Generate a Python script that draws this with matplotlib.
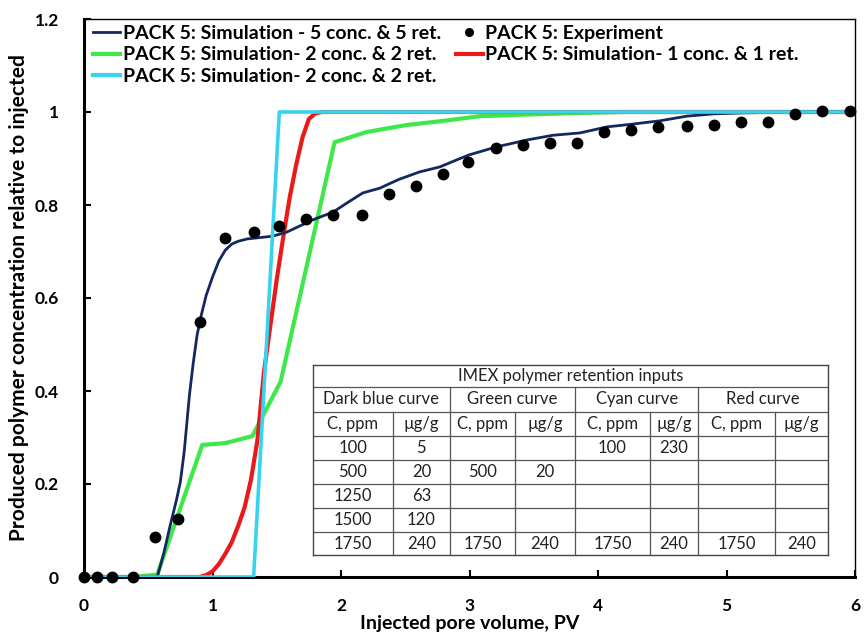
import matplotlib
matplotlib.use("Agg")
import matplotlib.pyplot as plt
from matplotlib.lines import Line2D

# ---------------- data ----------------
exp_x = [0.0, 0.10, 0.22, 0.38, 0.55, 0.73, 0.90, 1.10, 1.32, 1.52, 1.73, 1.94, 2.16,
         2.37, 2.58, 2.79, 2.99, 3.21, 3.42, 3.63, 3.84, 4.05, 4.26, 4.47, 4.69,
         4.90, 5.11, 5.32, 5.53, 5.74, 5.96]
exp_y = [0.0, 0.0, 0.0, 0.0, 0.086, 0.125, 0.548, 0.730, 0.742, 0.755, 0.770, 0.778,
         0.778, 0.824, 0.841, 0.867, 0.892, 0.923, 0.929, 0.933, 0.933, 0.957, 0.961,
         0.968, 0.970, 0.972, 0.978, 0.978, 0.996, 1.002, 1.002]

blue_x = [0.0, 0.57, 0.62, 0.67, 0.72, 0.75, 0.78, 0.80, 0.82, 0.85, 0.88, 0.91, 0.95,
          1.00, 1.05, 1.10, 1.15, 1.20, 1.27, 1.47, 1.58, 1.78, 1.94, 2.05, 2.17,
          2.30, 2.45, 2.61, 2.77, 2.90, 3.00, 3.21, 3.45, 3.65, 3.86, 4.07, 4.27,
          4.48, 4.69, 4.90, 5.10, 5.31, 5.60, 6.00]
blue_y = [0.0, 0.0, 0.05, 0.11, 0.166, 0.205, 0.27, 0.33, 0.39, 0.46, 0.52, 0.56, 0.605,
          0.645, 0.68, 0.703, 0.716, 0.722, 0.727, 0.733, 0.742, 0.768, 0.785, 0.805,
          0.826, 0.836, 0.855, 0.871, 0.882, 0.897, 0.908, 0.925, 0.940, 0.950, 0.955,
          0.968, 0.974, 0.981, 0.991, 0.996, 0.998, 0.999, 1.0, 1.0]

green_x = [0.0, 0.38, 0.57, 0.92, 1.10, 1.31, 1.53, 1.95, 2.20, 2.51, 2.77, 3.08, 3.50,
           3.86, 4.20, 6.00]
green_y = [0.0, 0.0, 0.005, 0.284, 0.288, 0.303, 0.420, 0.935, 0.957, 0.972, 0.980,
           0.991, 0.995, 0.998, 1.0, 1.0]

red_x = [0.0, 0.90, 0.95, 1.00, 1.05, 1.10, 1.15, 1.20, 1.25, 1.30, 1.35, 1.40, 1.45,
         1.50, 1.55, 1.60, 1.65, 1.70, 1.75, 1.80, 1.85, 6.00]
red_y = [0.0, 0.0, 0.004, 0.012, 0.028, 0.05, 0.075, 0.11, 0.15, 0.21, 0.295, 0.44,
         0.54, 0.64, 0.73, 0.815, 0.885, 0.945, 0.985, 0.997, 1.0, 1.0]

cyan_x = [0.0, 1.32, 1.52, 6.0]
cyan_y = [0.0, 0.0, 1.0, 1.0]

labels = ["PACK 5: Simulation - 5 conc. & 5 ret.",
          "PACK 5: Experiment",
          "PACK 5: Simulation- 2 conc. & 2 ret.",
          "PACK 5: Simulation- 1 conc. & 1 ret.",
          "PACK 5: Simulation- 2 conc. & 2 ret."]

x_ticks = [0, 1, 2, 3, 4, 5, 6]
y_ticks = [0, 0.2, 0.4, 0.6, 0.8, 1.0, 1.2]
y_tick_labels = ["0", "0.2", "0.4", "0.6", "0.8", "1", "1.2"]

table_title = "IMEX polymer retention inputs"
table_groups = ["Dark blue curve", "Green curve", "Cyan curve", "Red curve"]
table_sub = ["C, ppm", "µg/g"] * 4
table_rows = [
    ["100", "5", "", "", "100", "230", "", ""],
    ["500", "20", "500", "20", "", "", "", ""],
    ["1250", "63", "", "", "", "", "", ""],
    ["1500", "120", "", "", "", "", "", ""],
    ["1750", "240", "1750", "240", "1750", "240", "1750", "240"],
]

# ---------------- styles ----------------
C_BLUE = "#13285e"
C_GREEN = "#3fe84a"
C_RED = "#ea1a1a"
C_CYAN = "#36d4ee"
FONT = "Lato"

fig = plt.figure(figsize=(8.66, 6.35), dpi=100)
ax = fig.add_axes([84 / 866, 1 - 577 / 635, (855 - 84) / 866, (577 - 19) / 635])

ax.plot(green_x, green_y, color=C_GREEN, lw=3.0, zorder=2, solid_capstyle="round",
        solid_joinstyle="round")
ax.plot(red_x, red_y, color=C_RED, lw=3.0, zorder=3, solid_capstyle="round",
        solid_joinstyle="round")
ax.plot(blue_x, blue_y, color=C_BLUE, lw=2.0, zorder=4, solid_capstyle="round",
        solid_joinstyle="round")
ax.plot(cyan_x, cyan_y, color=C_CYAN, lw=2.6, zorder=5, solid_capstyle="round",
        solid_joinstyle="round")
ax.plot(exp_x, exp_y, "o", color="black", ms=7.5, zorder=6, clip_on=False)

ax.set_xlim(0, 6)
ax.set_ylim(0, 1.2)
ax.set_xticks(x_ticks)
ax.set_yticks(y_ticks)
ax.set_yticklabels(y_tick_labels)
ax.tick_params(direction="in", length=5, width=1.5, pad=15, labelsize=12.5)
ax.tick_params(axis="y", pad=18)
for lab in ax.get_xticklabels() + ax.get_yticklabels():
    lab.set_fontfamily(FONT)
    lab.set_fontweight("bold")
for s in ["left", "bottom"]:
    ax.spines[s].set_linewidth(2.2)
for s in ["top", "right"]:
    ax.spines[s].set_linewidth(1.0)

ax.set_xlabel("Injected pore volume, PV", fontfamily=FONT, fontweight="bold",
              fontsize=14, labelpad=1)
ax.set_ylabel("Produced polymer concentration relative to injected", fontfamily=FONT,
              fontweight="bold", fontsize=15, labelpad=4)

# legend
h_blue = Line2D([], [], color=C_BLUE, lw=2.0)
h_exp = Line2D([], [], color="black", marker="o", ms=5.5, lw=0)
h_green = Line2D([], [], color=C_GREEN, lw=3.0)
h_red = Line2D([], [], color=C_RED, lw=3.0)
h_cyan = Line2D([], [], color=C_CYAN, lw=3.0)
handles = [h_blue, h_green, h_cyan, h_exp, h_red]
leg_labels = [labels[0], labels[2], labels[4], labels[1], labels[3]]
leg = ax.legend(handles, leg_labels, ncol=2, loc="upper left",
                bbox_to_anchor=(0.012, 0.99), frameon=False, handlelength=1.4,
                handletextpad=0.12, columnspacing=0.75, labelspacing=0.25,
                borderpad=0.0, borderaxespad=0.0,
                prop={"family": FONT, "weight": "bold", "size": 14})

# ---------------- table ----------------
tax = fig.add_axes([313 / 866, 1 - 555 / 635, (828 - 313) / 866, (555 - 365) / 635])
tax.set_xlim(0, 1)
tax.set_ylim(1, 0)
tax.set_zorder(10)
tax.patch.set_facecolor("white")
tax.set_xticks([])
tax.set_yticks([])
for s in tax.spines.values():
    s.set_linewidth(1.0)
    s.set_color("#444444")

col_edges = [0.0, 0.155, 0.266, 0.392, 0.509, 0.654, 0.748, 0.897, 1.0]
row_edges = [0.0, 0.116, 0.247, 0.374, 0.50, 0.626, 0.753, 0.879, 1.0]
lc = "#555555"
for r in row_edges[1:-1]:
    tax.plot([0, 1], [r, r], color=lc, lw=0.9)
for i, c in enumerate(col_edges[1:-1], start=1):
    top = row_edges[1] if i % 2 == 0 else row_edges[2]
    tax.plot([c, c], [top, 1], color=lc, lw=0.9)

tfont = dict(family=FONT, size=12, ha="center", va="center", color="#222222")
tax.text(0.5, (row_edges[0] + row_edges[1]) / 2, table_title, **tfont)
for g, name in enumerate(table_groups):
    xc = (col_edges[2 * g] + col_edges[2 * g + 2]) / 2
    tax.text(xc, (row_edges[1] + row_edges[2]) / 2, name, **tfont)
for j, name in enumerate(table_sub):
    xc = (col_edges[j] + col_edges[j + 1]) / 2
    tax.text(xc, (row_edges[2] + row_edges[3]) / 2, name, **tfont)
for i, row in enumerate(table_rows):
    yc = (row_edges[3 + i] + row_edges[4 + i]) / 2
    for j, val in enumerate(row):
        if val:
            xc = (col_edges[j] + col_edges[j + 1]) / 2
            tax.text(xc, yc, val, **tfont)

fig.savefig("out.png", dpi=100)
